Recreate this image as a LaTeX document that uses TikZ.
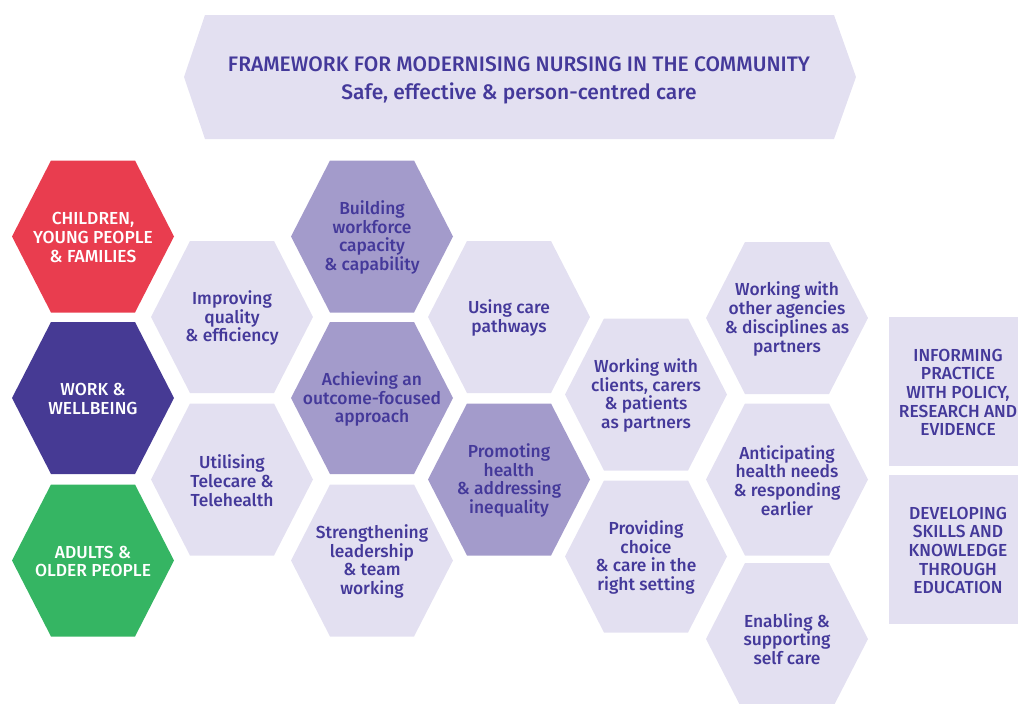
\documentclass[tikz,border=0pt]{standalone}
\usepackage{fontspec}
\setmainfont{Fira Sans Medium}
\definecolor{hxred}{HTML}{E93D4F}
\definecolor{hxdark}{HTML}{463A94}
\definecolor{hxgreen}{HTML}{35B563}
\definecolor{hxmid}{HTML}{A39BCB}
\definecolor{hxlight}{HTML}{E3E0F1}
\definecolor{hxtext}{HTML}{44399A}
\newcommand\hexshape[3]{%
  \fill[#3] ({#1-81},{#2}) -- ({#1-42},{#2-76}) -- ({#1+42},{#2-76}) -- ({#1+81},{#2}) -- ({#1+42},{#2+76}) -- ({#1-42},{#2+76}) -- cycle;}
\tikzset{
  hexlabel/.style={align=center, inner sep=0pt, font=\fontsize{17.4}{18.7}\selectfont, text=hxtext},
  whitelabel/.style={hexlabel, text=white},
  titlelabel/.style={align=center, inner sep=0pt, font=\fontsize{21}{27.5}\selectfont, text=hxtext}
}
\begin{document}
\begin{tikzpicture}[x=1pt,y=-1pt]
\useasboundingbox (0,0) rectangle (1018,704);
\clip (0,0) rectangle (1018,704);
% banner
\fill[hxlight] (184,77) -- (205,15) -- (834,15) -- (856,77) -- (834,139) -- (205,139) -- cycle;
\node[titlelabel] (title) at (519,80.5) {FRAMEWORK FOR MODERNISING NURSING IN THE COMMUNITY\\Safe, effective \& person-centred care};
% column 1
\hexshape{93}{236.5}{hxred}
\hexshape{93}{398}{hxdark}
\hexshape{93}{560.5}{hxgreen}
\node[whitelabel] (children) at (93,237.5) {CHILDREN,\\YOUNG PEOPLE\\\& FAMILIES};
\node[whitelabel] (work) at (93,399) {WORK \&\\WELLBEING};
\node[whitelabel] (adults) at (93,561.5) {ADULTS \&\\OLDER PEOPLE};
% column 2
\hexshape{232}{317}{hxlight}
\hexshape{232}{479.5}{hxlight}
\node[hexlabel] (improving) at (232,318) {Improving\\quality\\\& efficiency};
\node[hexlabel] (telecare) at (232,480.5) {Utilising\\Telecare \&\\Telehealth};
% column 3
\hexshape{372}{236.5}{hxmid}
\hexshape{372}{398}{hxmid}
\hexshape{372}{560.5}{hxlight}
\node[hexlabel] (workforce) at (372,237.5) {Building\\workforce\\capacity\\\& capability};
\node[hexlabel] (outcome) at (372,399) {Achieving an\\outcome-focused\\approach};
\node[hexlabel] (leadership) at (372,561.5) {Strengthening\\leadership\\\& team\\working};
% column 4
\hexshape{509}{317}{hxlight}
\hexshape{509}{479.5}{hxmid}
\node[hexlabel] (pathways) at (509,318) {Using care\\pathways};
\node[hexlabel] (promoting) at (509,480.5) {Promoting\\health\\\& addressing\\inequality};
% column 5
\hexshape{646}{394.5}{hxlight}
\hexshape{646}{556.5}{hxlight}
\node[hexlabel] (clients) at (646,395.5) {Working with\\clients, carers\\\& patients\\as partners};
\node[hexlabel] (choice) at (646,557.5) {Providing\\choice\\\& care in the\\right setting};
% column 6
\hexshape{787}{318}{hxlight}
\hexshape{787}{479.5}{hxlight}
\hexshape{787}{639}{hxlight}
\node[hexlabel] (agencies) at (787,319) {Working with\\other agencies\\\& disciplines as\\partners};
\node[hexlabel] (anticipating) at (787,480.5) {Anticipating\\health needs\\\& responding\\earlier};
\node[hexlabel] (selfcare) at (787,639) {Enabling \&\\supporting\\self care};
% right boxes
\fill[hxlight] (889,317) rectangle (1030,466);
\fill[hxlight] (889,475) rectangle (1030,624);
\node[hexlabel] (informing) at (958,392.5) {INFORMING\\PRACTICE\\WITH POLICY,\\RESEARCH AND\\EVIDENCE};
\node[hexlabel] (developing) at (958,550.5) {DEVELOPING\\SKILLS AND\\KNOWLEDGE\\THROUGH\\EDUCATION};
\end{tikzpicture}
\end{document}
